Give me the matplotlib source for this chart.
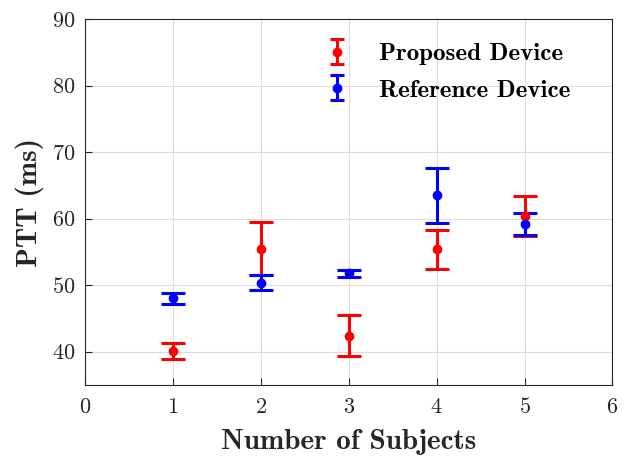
import matplotlib
matplotlib.use('Agg')
import matplotlib.pyplot as plt
from matplotlib.lines import Line2D

# PTT per subject
subjects = [1, 2, 3, 4, 5]
proposed_mean = [40.1, 55.5, 42.4, 55.4, 60.4]
proposed_err = [1.25, 4.0, 3.05, 2.9, 3.0]
reference_mean = [48.0, 50.4, 51.8, 63.5, 59.2]
reference_err = [0.8, 1.15, 0.5, 4.1, 1.7]

plt.rcParams['font.family'] = 'cmr10'
plt.rcParams['axes.formatter.use_mathtext'] = True

fig = plt.figure(figsize=(6.34, 4.58), dpi=100)
ax = fig.add_axes([0.134, 0.1594, 0.832, 0.7991])

ax.errorbar(subjects, proposed_mean, yerr=proposed_err, fmt='o', color='red',
            markersize=6, elinewidth=2.2, capsize=8.5, capthick=2.2,
            label='Proposed Device')
ax.errorbar(subjects, reference_mean, yerr=reference_err, fmt='o', color='blue',
            markersize=6, elinewidth=2.2, capsize=8.5, capthick=2.2,
            label='Reference Device')

ax.set_xlim(0, 6)
ax.set_ylim(35, 90)
ax.set_xticks(range(0, 7))
ax.set_yticks(range(40, 91, 10))
ax.grid(True, color='#dcdcdc', linewidth=0.8)
ax.set_axisbelow(True)
ax.tick_params(direction='in', length=5, colors='#262626', labelsize=16,
               top=False, right=False)
ax.tick_params(axis='x', pad=9)
ax.tick_params(axis='y', pad=7)
for sp in ax.spines.values():
    sp.set_color('#262626')
    sp.set_linewidth(0.8)

ax.set_xlabel('Number of Subjects', fontfamily='cmb10', fontsize=21,
              color='#262626', labelpad=8)
ax.set_ylabel('PTT (ms)', fontfamily='cmb10', fontsize=21,
              color='#262626', labelpad=6)

leg = ax.legend(loc='upper left', bbox_to_anchor=(0.454, 0.935), frameon=False,
                prop={'family': 'cmb10', 'size': 18}, handlelength=1.0,
                handletextpad=1.2, labelspacing=0.55, borderaxespad=0,
                borderpad=0)
# smaller caps in the legend, like the original
for ln in leg.findobj(Line2D):
    if ln.get_marker() == '_':
        ln.set_markersize(10)

fig.savefig('out.png', dpi=100)
